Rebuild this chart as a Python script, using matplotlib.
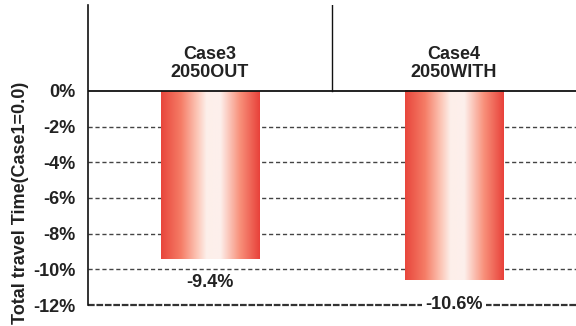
import numpy as np
import matplotlib
matplotlib.use('Agg')
import matplotlib.pyplot as plt
from matplotlib.colors import LinearSegmentedColormap

# data
categories = ['Case3\n2050OUT', 'Case4\n2050WITH']
values = [-9.4, -10.6]
value_labels = ['-9.4%', '-10.6%']
yticks = [0, -2, -4, -6, -8, -10, -12]
ytick_labels = ['0%', '-2%', '-4%', '-6%', '-8%', '-10%', '-12%']

plt.rcParams['font.family'] = ['Liberation Sans', 'DejaVu Sans']
txt = '#222222'

fig = plt.figure(figsize=(5.76, 3.26), dpi=100)
ax = fig.add_axes([0.1528, 0.0644, 0.8472, 0.9206])

# gradient colormap for the bars (red edges, white middle)
grad = LinearSegmentedColormap.from_list('bar', [
    (0.0, '#e8463c'), (0.2, '#f57c66'), (0.36, '#fcc4b4'),
    (0.46, '#fdefea'), (0.6, '#fdf0ec'), (0.8, '#f8907a'), (1.0, '#e8413a')])

x = np.arange(len(categories))
bars = ax.bar(x, values, width=0.405, color='none', edgecolor='none', zorder=3)
g = np.linspace(0, 1, 256).reshape(1, -1)
for r in bars:
    x0 = r.get_x()
    ax.imshow(g, cmap=grad, aspect='auto', zorder=3,
              extent=(x0, x0 + r.get_width(), r.get_y() + r.get_height(), r.get_y()))

# grid lines
for v in yticks[1:-1]:
    ax.axhline(v, color='#444444', lw=1.0, ls=(0, (3, 2)), zorder=1)
ax.axhline(-12, color='#333333', lw=1.6, ls=(0, (3, 0.8)), zorder=1, clip_on=False)
ax.axhline(0, color='#111111', lw=1.3, zorder=4)
ax.plot([0.5, 0.5], [0, 4.82], color='#111111', lw=1.0, zorder=4)

# value labels
for r, lab in zip(bars, value_labels):
    ax.annotate(lab, (r.get_x() + r.get_width() / 2, r.get_height()),
                xytext=(0, -24), textcoords='offset pixels', ha='center', va='center',
                fontsize=13, fontweight='bold', color=txt, zorder=6,
                bbox=dict(boxstyle='square,pad=0.2', fc='white', ec='none'))

# category labels
for xi, c in zip(x, categories):
    ax.text(xi, 0.56, c, ha='center', va='bottom', fontsize=13, fontweight='bold',
            color=txt, linespacing=1.05)

ax.set_xlim(-0.5, 1.5)
ax.set_ylim(-12, 4.82)
ax.set_xticks([])
ax.set_yticks(yticks)
ax.set_yticklabels(ytick_labels, fontsize=13, fontweight='bold', color=txt)
ax.tick_params(axis='y', length=0, pad=9)
for s in ['top', 'right', 'bottom']:
    ax.spines[s].set_visible(False)
ax.spines['left'].set_linewidth(1.2)
ax.spines['left'].set_color('#111111')
ax.set_ylabel('Total travel Time(Case1=0.0)', fontsize=13, fontweight='bold',
              color=txt)
ax.yaxis.set_label_coords(-0.12, 0.34)

fig.savefig('out.png', dpi=100)
